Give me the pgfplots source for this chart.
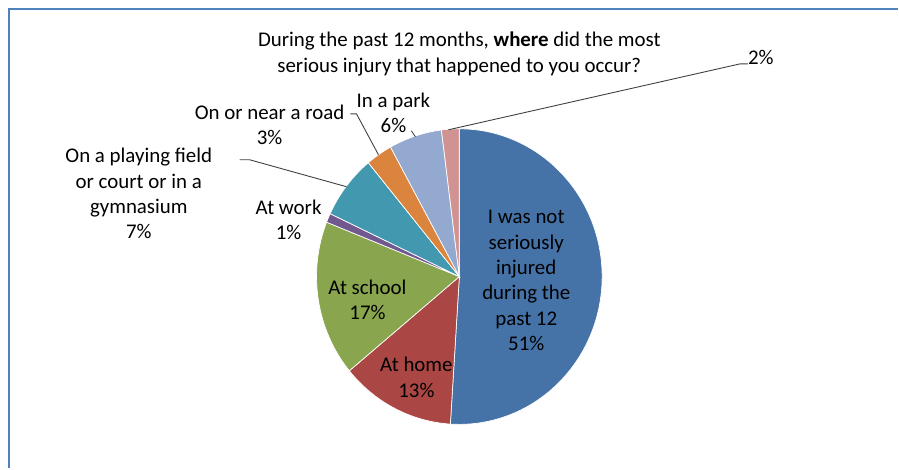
\documentclass[border=0pt]{standalone}
\usepackage{fontspec}
\setmainfont{Carlito}
\usepackage{pgfplots}
\pgfplotsset{compat=1.18}
\definecolor{frameblue}{HTML}{4F81BD}
\definecolor{pA}{HTML}{4572A7}
\definecolor{pB}{HTML}{AA4643}
\definecolor{pC}{HTML}{89A54E}
\definecolor{pD}{HTML}{71588F}
\definecolor{pE}{HTML}{4198AF}
\definecolor{pF}{HTML}{DB843D}
\definecolor{pG}{HTML}{93A9CF}
\definecolor{pH}{HTML}{D19392}
\definecolor{leader}{HTML}{404040}
\tikzset{lbl/.style={font=\fontsize{21}{25.5}\selectfont,align=center,inner sep=0pt}}

\begin{document}
\begin{tikzpicture}
\begin{axis}[width=899bp,height=469bp,scale only axis,hide axis,
  xmin=0,xmax=899,ymin=0,ymax=469,clip=false]
  % keep the whole canvas in the bounding box
  \path (axis cs:0,0) rectangle (axis cs:899,469);
  % frame (only top and left edges are in view)
  \draw[frameblue,line width=2.6bp] (axis cs:9,0) -- (axis cs:9,460) -- (axis cs:899,460);
  % pie: shares in percent, clockwise from 12 o'clock
  \xdef\angA{90}
  \foreach \v/\c in {51/pA,13/pB,17/pC,1/pD,7/pE,3/pF,6/pG,2/pH}{
    \pgfmathsetmacro\angB{\angA-3.6*\v}
    \pgfmathsetmacro\xs{460+143*cos(\angA)}
    \pgfmathsetmacro\ys{192+148*sin(\angA)}
    \edef\tmp{\noexpand\filldraw[fill=\c,draw=white,line width=0.7pt]
      (axis cs:460,192) -- (axis cs:\xs,\ys)
      arc[start angle=\angA,end angle=\angB,x radius=143bp,y radius=148bp] -- cycle;}
    \tmp
    \xdef\angA{\angB}
  }
  % leader lines
  \draw[leader,line width=0.9pt] (axis cs:449,339) -- (axis cs:741,405) -- (axis cs:749,405);
  \draw[leader,line width=0.9pt] (axis cs:412,338) -- (axis cs:416,332);
  \draw[leader,line width=0.9pt] (axis cs:351,355) -- (axis cs:357,355) -- (axis cs:379,314);
  \draw[leader,line width=0.9pt] (axis cs:240,309) -- (axis cs:250,309) -- (axis cs:347,282);
  % title
  \node[lbl] at (axis cs:460,415) {During the past 12 months, \textbf{where} did the most\\serious injury that happened to you occur?};
  % labels
  \node[lbl] at (axis cs:527,188) {I was not\\seriously\\injured\\during the\\past 12\\51\%};
  \node[lbl] at (axis cs:417,91) {At home\\13\%};
  \node[lbl] at (axis cs:368,169) {At school\\17\%};
  \node[lbl] at (axis cs:289,249) {At work\\1\%};
  \node[lbl] at (axis cs:139,275) {On a playing field\\or court or in a\\gymnasium\\7\%};
  \node[lbl] at (axis cs:270,344) {On or near a road\\3\%};
  \node[lbl] at (axis cs:394,356) {In a park\\6\%};
  \node[lbl] at (axis cs:762,411) {2\%};
\end{axis}
\end{tikzpicture}
\end{document}
